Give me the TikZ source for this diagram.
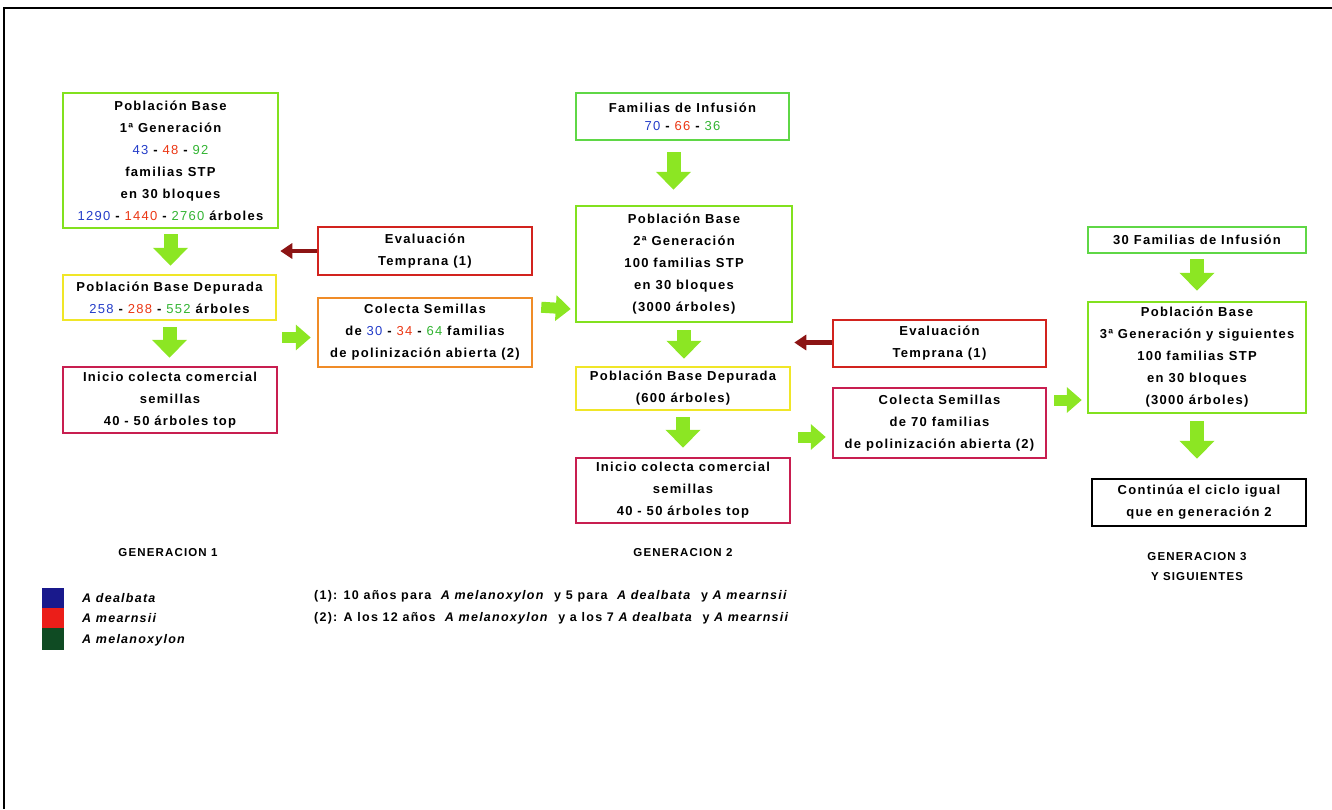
\documentclass[tikz,border=0pt]{standalone}
\usepackage{fontspec}
\setmainfont{Liberation Sans}[LetterSpace=10]
\usetikzlibrary{arrows.meta,calc}
\definecolor{cLime}{RGB}{130,225,30}
\definecolor{cInf}{RGB}{95,215,70}
\definecolor{cYel}{RGB}{240,230,40}
\definecolor{cCrim}{RGB}{200,30,80}
\definecolor{cRedB}{RGB}{210,35,30}
\definecolor{cOrB}{RGB}{240,140,40}
\definecolor{cArrow}{RGB}{140,230,35}
\definecolor{cDark}{RGB}{140,20,20}
\definecolor{cBlue}{RGB}{35,60,200}
\definecolor{cRed}{RGB}{235,55,20}
\definecolor{cGreen}{RGB}{50,180,50}
\definecolor{lBlue}{RGB}{25,25,140}
\definecolor{lRed}{RGB}{235,30,25}
\definecolor{lGreen}{RGB}{15,75,35}
\newcommand\bxfont{\fontsize{13}{22}\selectfont\bfseries}
\newcommand\nB[1]{{\mdseries\color{cBlue}#1}}
\newcommand\nR[1]{{\mdseries\color{cRed}#1}}
\newcommand\nG[1]{{\mdseries\color{cGreen}#1}}
\tikzset{
  box/.style={draw, line width=2.5pt, inner sep=0pt, align=center, font=\bxfont},
  gbox/.style={box, draw=cLime},
  ibox/.style={box, draw=cInf},
  ybox/.style={box, draw=cYel},
  cbox/.style={box, draw=cCrim},
  rbox/.style={box, draw=cRedB},
  obox/.style={box, draw=cOrB},
  kbox/.style={box, draw=black},
  gdown/.style={draw=cArrow, line width=14pt, -{Triangle[length=18pt,width=34pt]}},
  gright/.style={draw=cArrow, line width=11pt, -{Triangle[length=15pt,width=25pt]}},
  rleft/.style={draw=cDark, line width=4.5pt, -{Triangle[length=12pt,width=15pt]}},
  lbl/.style={font=\fontsize{11.5}{20}\selectfont\bfseries, align=center, inner sep=0pt},
  note/.style={font=\fontsize{12.5}{20}\selectfont\bfseries, anchor=west, inner sep=0pt},
}
\begin{document}
\begin{tikzpicture}[x=1pt,y=-1pt]
\useasboundingbox (0,0) rectangle (1332,809);
\draw[line width=1.6pt] (1332,8) -- (4,8) -- (4,809);
% Generation 1
\node[gbox, minimum width=215pt, minimum height=135pt] (a) at (170.5,160.5)
 {Población Base\\1ª Generación\\\nB{43} - \nR{48} - \nG{92}\\familias STP\\en 30 bloques\\\nB{1290} - \nR{1440} - \nG{2760} árboles};
\node[ybox, minimum width=213pt, minimum height=45pt] (b) at (169.5,297.5)
 {Población Base Depurada\\\nB{258} - \nR{288} - \nG{552} árboles};
\node[cbox, minimum width=214pt, minimum height=66pt] (c) at (170,400)
 {Inicio colecta comercial\\semillas\\40 - 50 árboles top};
\node[rbox, minimum width=214pt, minimum height=48pt] (d) at (425,251)
 {Evaluación\\Temprana (1)};
\node[obox, minimum width=214pt, minimum height=69pt] (e) at (425,332.5)
 {Colecta Semillas\\de \nB{30} - \nR{34} - \nG{64} familias\\de polinización abierta (2)};
% Generation 2
\node[ibox, minimum width=213pt, minimum height=47pt, font=\fontsize{13}{18}\selectfont\bfseries] (f) at (682.5,116.5)
 {Familias de Infusión\\\nB{70} - \nR{66} - \nG{36}};
\node[gbox, minimum width=216pt, minimum height=116pt] (g) at (684,264)
 {Población Base\\2ª Generación\\100 familias STP\\en 30 bloques\\(3000 árboles)};
\node[ybox, minimum width=214pt, minimum height=43pt] (h) at (683,388.5)
 {Población Base Depurada\\(600 árboles)};
\node[cbox, minimum width=214pt, minimum height=65pt] (i) at (683,490.5)
 {Inicio colecta comercial\\semillas\\40 - 50 árboles top};
\node[rbox, minimum width=213pt, minimum height=47pt] (j) at (939.5,343.5)
 {Evaluación\\Temprana (1)};
\node[cbox, minimum width=213pt, minimum height=70pt] (k) at (939.5,423)
 {Colecta Semillas\\de 70 familias\\de polinización abierta (2)};
% Generation 3
\node[ibox, minimum width=218pt, minimum height=26pt] (l) at (1197,240)
 {30 Familias de Infusión};
\node[gbox, minimum width=218pt, minimum height=111pt] (m) at (1197,357.5)
 {Población Base\\3ª Generación y siguientes\\100 familias STP\\en 30 bloques\\(3000 árboles)};
\node[kbox, minimum width=214pt, minimum height=47pt] (n) at (1199,502.5)
 {Continúa el ciclo igual\\que en generación 2};
% arrows
\draw[gdown, shorten <=5pt, shorten >=8pt] (a.south) -- (a.south |- b.north);
\draw[gdown, shorten <=6pt, shorten >=8pt] (b.south) -- (b.south |- c.north);
\draw[rleft, shorten >=1pt] (d.west) -- (d.west -| a.east);
\draw[gright, shorten <=5pt, shorten >=6pt] ([yshift=-5pt]e.west -| b.east) -- ([yshift=-5pt]e.west);
\draw[gright, shorten <=8pt, shorten >=4pt] ($(e.north east)+(0,10)$) -- ($(g.south west)+(0,-14)$);
\draw[gdown, shorten <=11pt, shorten >=15pt] ([xshift=-9pt]f.south) -- ([xshift=-9pt]f.south |- g.north);
\draw[gdown, shorten <=7pt, shorten >=7pt] (g.south) -- (g.south |- h.north);
\draw[gdown, shorten <=6pt, shorten >=9pt] (h.south) -- (h.south |- i.north);
\draw[rleft, shorten >=1pt] ([yshift=1pt]j.west) -- ([yshift=1pt]j.west -| g.east);
\draw[gright, shorten <=7pt, shorten >=6pt] ([yshift=-14pt]k.west -| i.east) -- ([yshift=-14pt]k.west);
\draw[gright, shorten <=7pt, shorten >=5pt] ([yshift=23pt]k.east) -- ([yshift=23pt]k.east -| m.west);
\draw[gdown, shorten <=5pt, shorten >=10pt] (l.south) -- (l.south |- m.north);
\draw[gdown, shorten <=7pt, shorten >=19pt] (m.south) -- (m.south |- n.north);
% labels
\node[lbl] (g1) at (168,553) {GENERACION 1};
\node[lbl] (g2) at (683,553) {GENERACION 2};
\node[lbl] (g3) at (1197,567) {GENERACION 3\\Y SIGUIENTES};
% legend
\fill[lBlue] (42,588) rectangle (64,608);
\fill[lRed] (42,608) rectangle (64,628);
\fill[lGreen] (42,628) rectangle (64,650);
\node[note] (s1) at (82,598) {\textit{A dealbata}};
\node[note] (s2) at (82,618) {\textit{A mearnsii}};
\node[note] (s3) at (82,640) {\textit{A melanoxylon}};
\node[note] (f1) at (314,596) {(1): 10 años para~ \textit{A melanoxylon}~ y 5 para~ \textit{A dealbata}~ y \textit{A mearnsii}};
\node[note] (f2) at (314,618) {(2): A los 12 años~ \textit{A melanoxylon}~ y a los 7 \textit{A dealbata}~ y \textit{A mearnsii}};
\end{tikzpicture}
\end{document}
